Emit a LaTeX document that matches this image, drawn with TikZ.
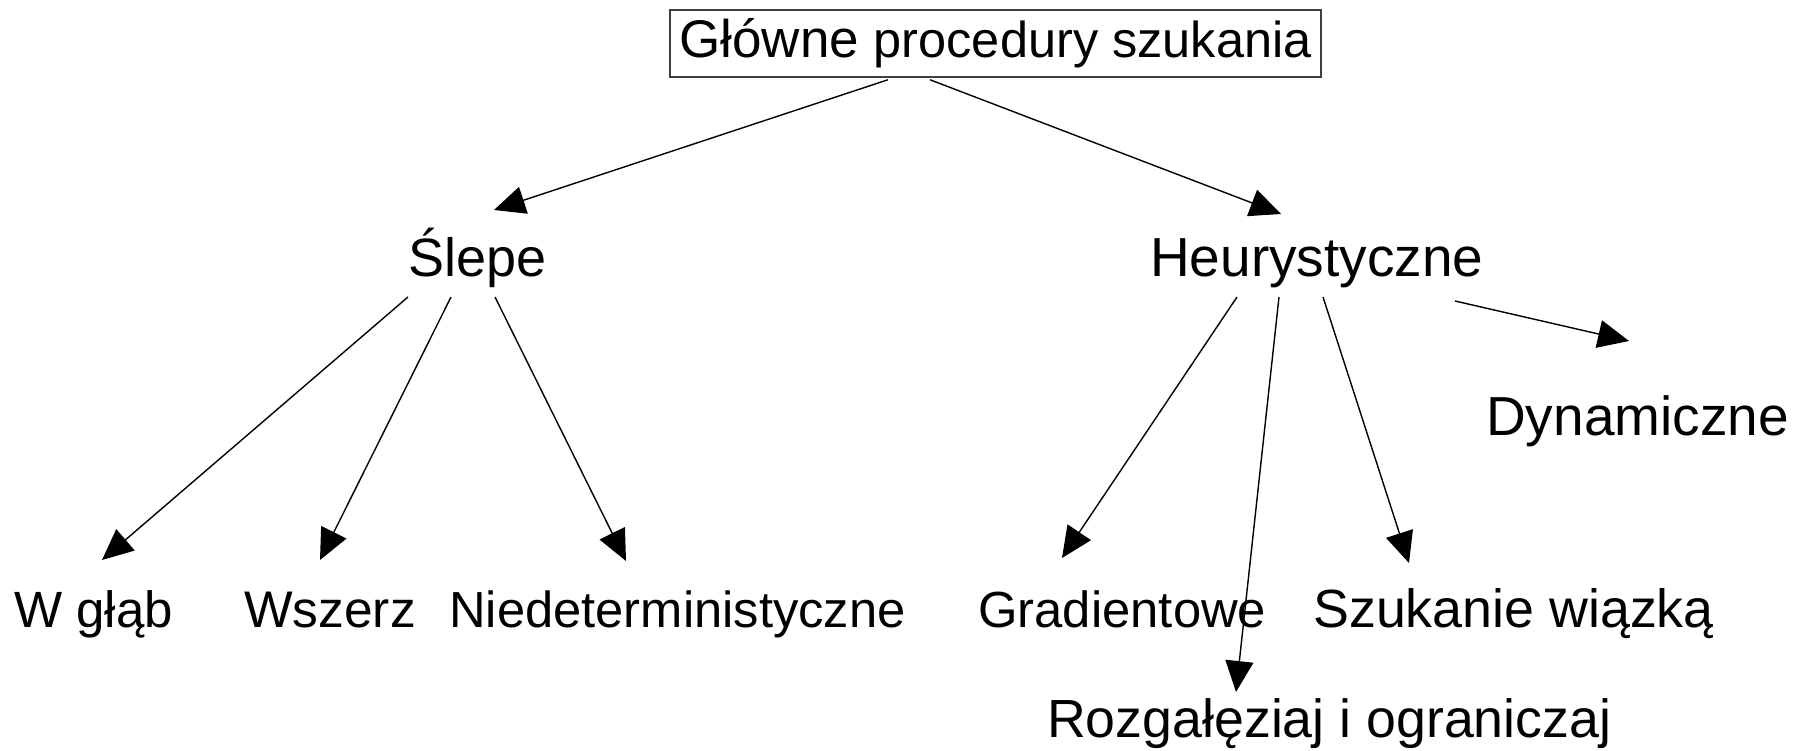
\documentclass[tikz,border=0pt]{standalone}
\usepackage{fontspec}
\setmainfont{Liberation Sans}
\usetikzlibrary{arrows.meta,calc}
\newcommand{\fsz}[1]{\fontsize{#1pt}{#1pt}\selectfont}
\tikzset{
  lbl/.style={inner sep=0pt, anchor=base west, text=black},
  arr/.style={-{Triangle[length=31pt,width=28pt]}, line width=1.4pt, draw=black},
  titlebox/.style={draw=black!75, line width=1.5pt, minimum width=651pt, minimum height=67pt, inner sep=0pt}
}
\begin{document}
\begin{tikzpicture}[x=1pt,y=-1pt]
\useasboundingbox (0,0) rectangle (1804,750);
\node[titlebox] (title) at (995.5,43.5) {\fsz{53}Główne \fsz{50.5}procedury szukania};
\node[lbl] (slepe) at (408,276) {\fsz{54}Ślepe};
\node[lbl] (heur) at (1150,276) {\fsz{55}Heurystyczne};
\node[lbl] (dyn) at (1486,435) {\fsz{55}Dynamiczne};
\node[lbl] (wglab) at (14,627) {\fsz{51}W głąb};
\node[lbl] (wszerz) at (244,627) {\fsz{51.5}Wszerz};
\node[lbl] (niedet) at (449,627) {\fsz{50.7}Niedeterministyczne};
\node[lbl] (grad) at (978,627) {\fsz{50.8}Gradientowe};
\node[lbl] (szuk) at (1313,627) {\fsz{53.8}Szukanie wiązką};
\node[lbl] (rozg) at (1047,737) {\fsz{53.7}Rozgałęziaj i ograniczaj};
% connectors
\draw[arr] ($(title.south)+(-107.5,2)$) -- ($(slepe.base west)+(86,-66)$);
\draw[arr] ($(title.south)+(-65.5,2)$) -- ($(heur.base west)+(131,-62)$);
\draw[arr] ($(slepe.base west)+(0,21)$) -- ($(wglab.base west)+(88,-67)$);
\draw[arr] ($(slepe.base west)+(43,21)$) -- ($(wszerz.base west)+(76,-67)$);
\draw[arr] ($(slepe.base west)+(87,21)$) -- ($(niedet.base west)+(177,-66)$);
\draw[arr] ($(heur.base west)+(87,21)$) -- ($(grad.base west)+(84,-69)$);
\draw[arr] ($(heur.base west)+(129,21)$) -- ($(rozg.base west)+(189,-45)$);
\draw[arr] ($(heur.base west)+(173,21)$) -- ($(szuk.base west)+(96,-64)$);
\draw[arr] ($(heur.base west)+(305,25)$) -- ($(dyn.base west)+(143,-94)$);
\end{tikzpicture}
\end{document}
